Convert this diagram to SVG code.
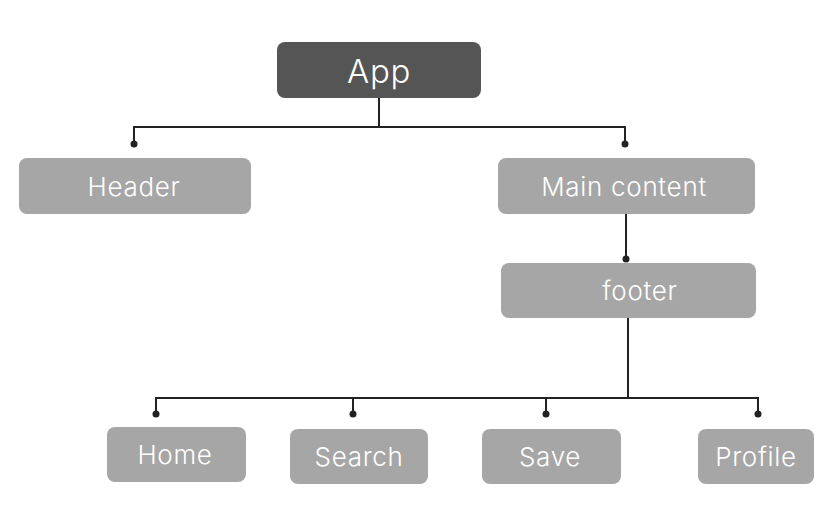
<svg xmlns="http://www.w3.org/2000/svg" width="832" height="524" viewBox="0 0 832 524">
<defs>
<style>
.node rect{fill:#a6a6a6}
.node text{fill:#ffffff;font-family:Inter,"Noto Sans",sans-serif;font-size:26px;font-weight:300;letter-spacing:0.7px;text-anchor:middle}
#app rect{fill:#555555}
#app text{font-size:33px}
.conn path{fill:none;stroke:#222222;stroke-width:2}
.conn circle{fill:#222222}
</style>
</defs>
<rect width="832" height="524" fill="#ffffff"/>
<g class="conn">
<path d="M379 98V127M134 144V127H625V144"/>
<path d="M626 214V259"/>
<path d="M628 318V398M156 414V398H758V414M353 398V414M546 398V414"/>
<circle cx="134" cy="144" r="3.5"/>
<circle cx="625" cy="144" r="3.5"/>
<circle cx="626" cy="259" r="3.5"/>
<circle cx="156" cy="414" r="3.5"/>
<circle cx="353" cy="414" r="3.5"/>
<circle cx="546" cy="414" r="3.5"/>
<circle cx="758" cy="414" r="3.5"/>
</g>
<g class="node" id="app"><rect x="277" y="42" width="204" height="56" rx="8"/><text x="379" y="83">App</text></g>
<g class="node" id="header"><rect x="19" y="158" width="232" height="56" rx="8"/><text x="134" y="196">Header</text></g>
<g class="node" id="main"><rect x="498" y="158" width="257" height="56" rx="8"/><text x="624" y="196">Main content</text></g>
<g class="node" id="footer"><rect x="501" y="263" width="255" height="55" rx="8"/><text x="640" y="300">footer</text></g>
<g class="node" id="home"><rect x="107" y="427" width="139" height="55" rx="8"/><text x="175" y="464">Home</text></g>
<g class="node" id="search"><rect x="290" y="429" width="138" height="55" rx="8"/><text x="359" y="466">Search</text></g>
<g class="node" id="save"><rect x="482" y="429" width="139" height="55" rx="8"/><text x="550" y="466">Save</text></g>
<g class="node" id="profile"><rect x="698" y="429" width="116" height="55" rx="8"/><text x="756" y="466">Profile</text></g>
</svg>
